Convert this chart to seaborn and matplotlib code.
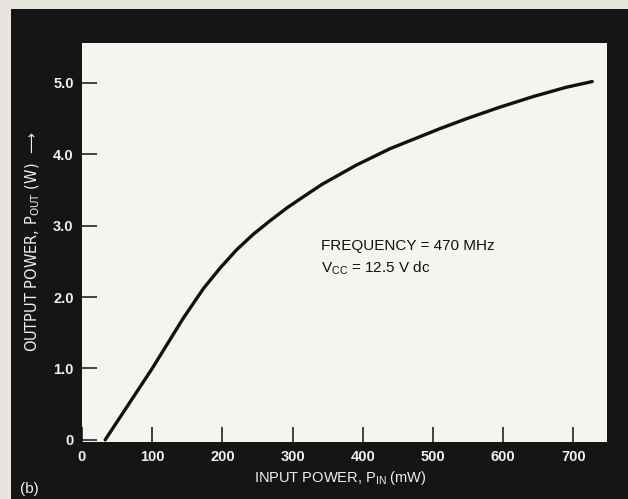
import matplotlib
matplotlib.use("Agg")
import matplotlib.pyplot as plt
from matplotlib.patches import Rectangle
import seaborn as sns

# input power (mW) vs output power (W)
input_mw = [33, 100, 144, 173, 197, 220, 244, 268, 292, 316, 342, 391, 439, 510, 548, 595, 643, 690, 727]
output_w = [0.0, 1.0, 1.70, 2.12, 2.41, 2.66, 2.88, 3.07, 3.25, 3.41, 3.58, 3.85, 4.08, 4.36, 4.50, 4.66, 4.81, 4.94, 5.02]

x_ticks = [0, 100, 200, 300, 400, 500, 600, 700]
y_ticks = [0, 1, 2, 3, 4, 5]
y_tick_labels = ["0", "1.0", "2.0", "3.0", "4.0", "5.0"]

sns.set_style("white")
plt.rcParams["font.family"] = ["Liberation Sans Narrow", "Liberation Sans", "DejaVu Sans"]
plt.rcParams["mathtext.default"] = "regular"

fig = plt.figure(figsize=(6.28, 4.99), dpi=100)
fig.patch.set_facecolor("#151515")
# light paper strip left/top of the black frame
fig.patches.append(Rectangle((0, 0), 11 / 628, 1, transform=fig.transFigure,
                             facecolor="#e6e4dc", edgecolor="none", zorder=0))
fig.patches.append(Rectangle((0, 1 - 9 / 499), 1, 9 / 499, transform=fig.transFigure,
                             facecolor="#e6e4dc", edgecolor="none", zorder=0))

ax = fig.add_axes([82 / 628, 57 / 499, 525 / 628, 399 / 499])
ax.set_facecolor("#f5f4ef")

sns.lineplot(x=input_mw, y=output_w, ax=ax, color="#111111", lw=2.4, sort=False)

ax.set_xlim(0, 748)
ax.set_ylim(-0.03, 5.56)
ax.set_xticks(x_ticks)
ax.set_xticklabels([str(v) for v in x_ticks], fontweight="bold")
ax.set_yticks(y_ticks)
ax.set_yticklabels(y_tick_labels, fontweight="bold")
for s in ax.spines.values():
    s.set_visible(False)
ax.tick_params(axis="both", direction="in", length=10.5, width=1.1, color="#111111",
               labelcolor="#f0f0f0", labelsize=10.5, pad=6)
ax.tick_params(axis="x", bottom=True)
ax.tick_params(axis="y", left=True)

ax.text(340, 2.72, "FREQUENCY = 470 MHz", fontsize=11, color="#111111",
        family=["Liberation Sans", "DejaVu Sans"], va="center", ha="left")
ax.text(340, 2.41, "V$_{CC}$ = 12.5 V dc", fontsize=11, color="#111111",
        family=["Liberation Sans", "DejaVu Sans"], va="center", ha="left")

fig.text(33 / 628, 1 - 242 / 499, "OUTPUT POWER, P$_{OUT}$ (W)  \u27f6", rotation=90,
         color="#f0f0f0", fontsize=10.5, ha="center", va="center",
         family=["Liberation Sans Narrow", "DejaVu Sans"])
fig.text(340 / 628, 1 - 478 / 499, "INPUT POWER, P$_{IN}$ (mW)", color="#f0f0f0",
         fontsize=10.5, ha="center", va="center")
fig.text(20 / 628, 1 - 489 / 499, "(b)", color="#f0f0f0", fontsize=11,
         ha="left", va="center")

fig.savefig("out.png", dpi=100, facecolor=fig.get_facecolor())
